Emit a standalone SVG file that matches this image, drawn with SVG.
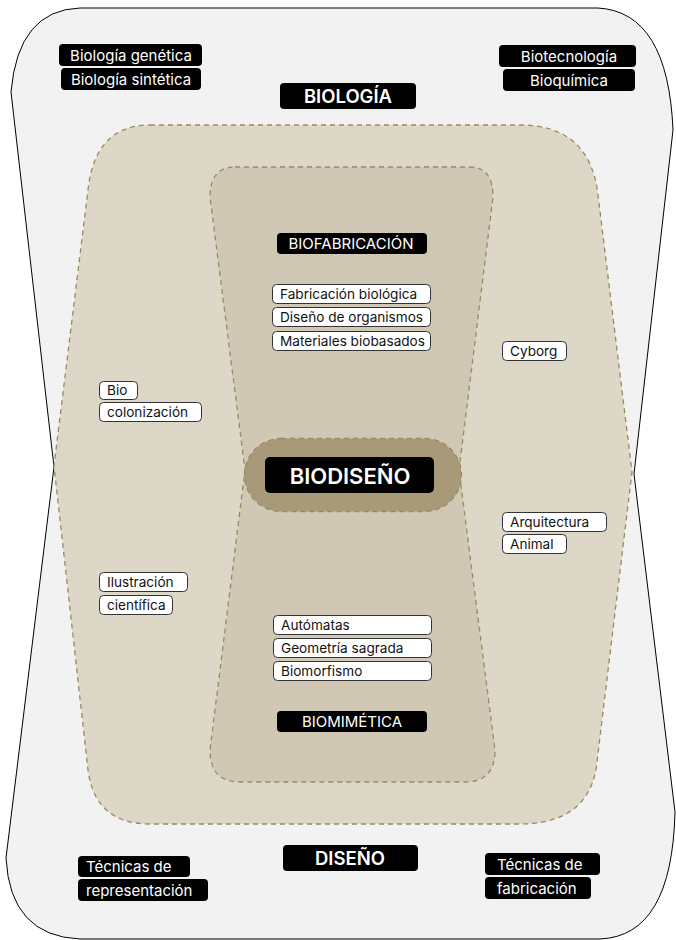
<svg xmlns="http://www.w3.org/2000/svg" width="676" height="940" viewBox="0 0 676 940">
<style>
.dash{stroke:#9a8a5e;stroke-width:1.3;stroke-dasharray:5 4}
.bk{fill:#000}
.wb{fill:#fff;stroke:#333;stroke-width:1}
.tw{fill:#fff;font-family:Inter,"Liberation Sans",sans-serif;font-size:15px}
.tb{fill:#111;font-family:Inter,"Liberation Sans",sans-serif;font-size:13.6px}
.th{fill:#fff;font-family:Inter,"Liberation Sans",sans-serif;font-size:18.5px;font-weight:600;text-anchor:middle}
.tm{fill:#fff;font-family:Inter,"Liberation Sans",sans-serif;font-size:15px;text-anchor:middle}
</style>
<g id="outer">
<path d="M80 8 L598 8 Q668 12 673 130 L634 474 L675 812 Q672 936 600 939 L80 939 Q10 936 6 858 L54 467 L11 92 Q18 10 80 8 Z" fill="#f2f2f2" stroke="#000" stroke-width="1"/>
</g>
<g id="middle">
<path d="M150 125 L520 125 Q590 125 598 195 L632 472 L596 770 Q585 824 520 824 L150 824 Q95 824 88 770 L54 466 L88 190 Q95 125 150 125 Z" fill="#ddd7c7" class="dash"/>
</g>
<g id="inner">
<path d="M235 167 L470 167 Q493 167 493 197 L459 470 L495 750 Q495 782 465 782 L240 782 Q210 782 210 750 L245 470 L210 197 Q210 167 235 167 Z" fill="#d0c8b4" class="dash"/>
</g>
<g id="biodiseno">
<rect x="244.5" y="438.5" width="217" height="73" rx="36.5" fill="#a89a79" class="dash"/>
<rect x="265" y="457" width="169" height="36" rx="5" class="bk"/>
<text x="350" y="484" class="th" style="font-size:22px">BIODISEÑO</text>
</g>
<g id="biologia">
<rect x="280" y="83" width="136" height="26" rx="4" class="bk"/>
<text x="348" y="103" class="th">BIOLOGÍA</text>
</g>
<g id="diseno">
<rect x="283" y="845" width="135" height="26" rx="4" class="bk"/>
<text x="350" y="865" class="th">DISEÑO</text>
</g>
<g id="biologia-genetica">
<rect x="59" y="44" width="143" height="22" rx="4" class="bk"/>
<text x="131" y="60.5" class="tm">Biología genética</text>
</g>
<g id="biologia-sintetica">
<rect x="61" y="68" width="140" height="22" rx="4" class="bk"/>
<text x="131" y="84.5" class="tm">Biología sintética</text>
</g>
<g id="biotecnologia">
<rect x="499" y="45" width="137" height="22" rx="4" class="bk"/>
<text x="569" y="61.5" class="tm">Biotecnología</text>
</g>
<g id="bioquimica">
<rect x="503" y="69" width="132" height="22" rx="4" class="bk"/>
<text x="569" y="85.5" class="tm">Bioquímica</text>
</g>
<g id="biofabricacion">
<rect x="277" y="233" width="150" height="21" rx="4" class="bk"/>
<text x="351" y="249" class="tm">BIOFABRICACIÓN</text>
</g>
<g id="biomimetica">
<rect x="277" y="711" width="150" height="21" rx="4" class="bk"/>
<text x="352" y="727" class="tm">BIOMIMÉTICA</text>
</g>
<g id="fabricacion-biologica">
<rect x="272.5" y="284.5" width="158" height="19" rx="4" class="wb"/>
<text x="280" y="298.8" class="tb">Fabricación biológica</text>
</g>
<g id="diseno-organismos">
<rect x="272.5" y="307.5" width="158" height="19" rx="4" class="wb"/>
<text x="280" y="321.8" class="tb">Diseño de organismos</text>
</g>
<g id="materiales-biobasados">
<rect x="272.5" y="331.5" width="158" height="19" rx="4" class="wb"/>
<text x="280" y="345.8" class="tb">Materiales biobasados</text>
</g>
<g id="automatas">
<rect x="273.5" y="615.5" width="158" height="19" rx="4" class="wb"/>
<text x="281" y="629.8" class="tb">Autómatas</text>
</g>
<g id="geometria-sagrada">
<rect x="273.5" y="638.5" width="158" height="19" rx="4" class="wb"/>
<text x="281" y="652.8" class="tb">Geometría sagrada</text>
</g>
<g id="biomorfismo">
<rect x="273.5" y="661.5" width="158" height="19" rx="4" class="wb"/>
<text x="281" y="675.8" class="tb">Biomorfismo</text>
</g>
<g id="bio">
<rect x="99.5" y="381.5" width="38" height="18" rx="4" class="wb"/>
<text x="107" y="395.3" class="tb">Bio</text>
</g>
<g id="colonizacion">
<rect x="99.5" y="402.5" width="102" height="19" rx="4" class="wb"/>
<text x="107" y="416.8" class="tb">colonización</text>
</g>
<g id="ilustracion">
<rect x="99.5" y="572.5" width="88" height="19" rx="4" class="wb"/>
<text x="107" y="586.8" class="tb">Ilustración</text>
</g>
<g id="cientifica">
<rect x="99.5" y="595.5" width="73" height="19" rx="4" class="wb"/>
<text x="107" y="609.8" class="tb">científica</text>
</g>
<g id="cyborg">
<rect x="502.5" y="341.5" width="64" height="19" rx="4" class="wb"/>
<text x="510" y="355.8" class="tb">Cyborg</text>
</g>
<g id="arquitectura">
<rect x="502.5" y="512.5" width="104" height="19" rx="4" class="wb"/>
<text x="510" y="526.8" class="tb">Arquitectura</text>
</g>
<g id="animal">
<rect x="502.5" y="534.5" width="64" height="19" rx="4" class="wb"/>
<text x="510" y="548.8" class="tb">Animal</text>
</g>
<g id="tecnicas-representacion">
<rect x="78" y="856" width="112" height="21" rx="4" class="bk"/>
<text x="86" y="872" class="tw">Técnicas de</text>
<rect x="78" y="879" width="130" height="22" rx="4" class="bk"/>
<text x="86" y="895.5" class="tw">representación</text>
</g>
<g id="tecnicas-fabricacion">
<rect x="485" y="853" width="115" height="22" rx="4" class="bk"/>
<text x="497" y="869.5" class="tw">Técnicas de</text>
<rect x="485" y="877" width="106" height="22" rx="4" class="bk"/>
<text x="497" y="893.5" class="tw">fabricación</text>
</g>
<g id="connectors"></g>
</svg>
